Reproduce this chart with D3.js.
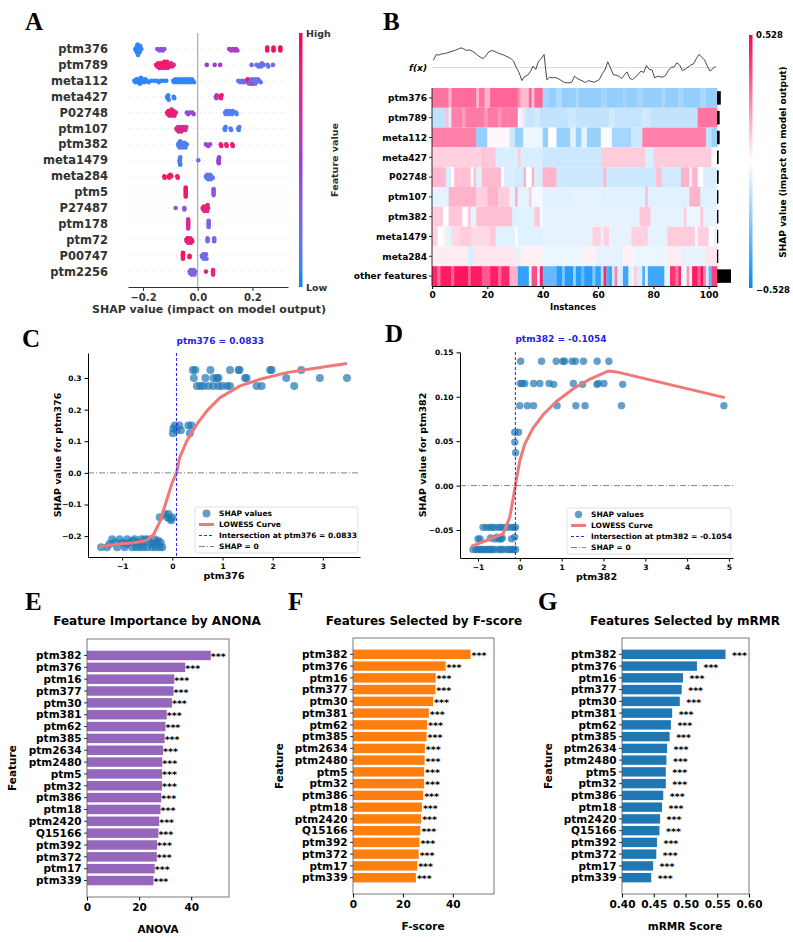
<!DOCTYPE html>
<html>
<head>
<meta charset="utf-8">
<script src="https://cdn.jsdelivr.net/npm/d3@7"></script>
<style>
  body { margin: 0; background: #fff; }
  svg text { font-family: "DejaVu Sans", sans-serif; font-weight: bold; }
  svg text.letter { font-family: "Liberation Serif", "Times New Roman", serif; }
</style>
</head>
<body>
<svg id="fig" width="793" height="942"></svg>
<script>
// ---------------- data ----------------

// A: shap summary (beeswarm). each dot = [shap value, scaled feature value 0..1]
var summaryFeatures = ["ptm376","ptm789","meta112","meta427","P02748","ptm107","ptm382","meta1479","meta284","ptm5","P27487","ptm178","ptm72","P00747","ptm2256"];
var summaryTicks = [-0.2, 0.0, 0.2];
var summaryShap = [
  [[-0.228,.03],[-0.226,.05],[-0.224,.02],[-0.222,.04],[-0.222,.06],[-0.220,.03],[-0.220,.05],[-0.218,.02],[-0.218,.07],[-0.216,.04],[-0.214,.03],[-0.212,.05],[-0.210,.04],[-0.206,.06],
   [-0.148,.4],[-0.140,.42],[-0.135,.38],[-0.128,.45],[-0.122,.4],
   [0.115,.55],[0.122,.58],[0.128,.52],[0.135,.6],[0.140,.55],[0.145,.58],
   [0.254,.95],[0.254,.97],[0.254,.93],[0.277,.95],[0.277,.97],[0.277,.93],[0.302,.96],[0.302,.94],[0.302,.98]],
  [[-0.152,.9],[-0.148,.85],[-0.145,.92],[-0.142,.88],[-0.140,.95],[-0.138,.75],[-0.135,.9],[-0.133,.92],[-0.130,.7],[-0.128,.95],[-0.126,.9],[-0.124,.88],[-0.122,.93],[-0.120,.72],[-0.118,.9],[-0.116,.95],[-0.114,.88],[-0.112,.9],[-0.110,.75],[-0.106,.92],[-0.102,.9],[-0.098,.85],[-0.094,.9],[-0.088,.8],
   [0.033,.5],[0.062,.48],[0.082,.52],
   [0.197,.3],[0.215,.2],[0.222,.15],[0.228,.22],[0.232,.18],[0.235,.25],[0.240,.2],[0.255,.3],[0.258,.2],[0.275,.25]],
  [[-0.232,.03],[-0.228,.05],[-0.224,.02],[-0.220,.04],[-0.216,.03],[-0.214,.06],[-0.212,.02],[-0.210,.04],[-0.208,.05],[-0.206,.03],[-0.204,.02],[-0.200,.05],[-0.196,.04],[-0.192,.03],[-0.186,.05],[-0.180,.04],
   [-0.170,.03],[-0.160,.05],[-0.150,.04],[-0.142,.03],[-0.135,.05],[-0.125,.04],[-0.115,.03],
   [-0.090,.04],[-0.086,.03],[-0.082,.05],[-0.078,.02],[-0.074,.04],[-0.070,.06],[-0.066,.03],[-0.062,.05],[-0.058,.04],[-0.054,.02],[-0.050,.05],[-0.046,.04],[-0.042,.03],[-0.038,.05],[-0.034,.04],[-0.030,.06],[-0.026,.03],[-0.022,.05],[-0.018,.04],[-0.014,.03],
   [0.148,.2],[0.155,.18],[0.162,.25],[0.168,.2],[0.175,.3],[0.180,.22],[0.183,.95],[0.186,.9],[0.188,.2],[0.192,.25],[0.195,.18],[0.198,.3],[0.200,.92],[0.203,.2],[0.206,.25],[0.208,.18],[0.210,.3],[0.213,.2],[0.216,.22],[0.220,.25],[0.225,.2],[0.230,.18]],
  [[-0.112,.05],[-0.110,.04],[-0.108,.06],[-0.106,.05],[-0.088,.05],[-0.086,.07],
   [0.066,.55],[0.068,.6],[0.070,.52],[0.083,.92],[0.085,.9],[0.087,.95]],
  [[-0.112,.9],[-0.110,.85],[-0.107,.92],[-0.104,.75],[-0.102,.9],[-0.100,.95],[-0.098,.88],[-0.096,.9],[-0.094,.78],[-0.092,.92],[-0.090,.9],[-0.088,.85],[-0.085,.9],[-0.080,.8],
   [-0.040,.45],[-0.035,.5],[-0.030,.42],[-0.020,.48],[-0.015,.45],
   [0.100,.1],[0.102,.12],[0.105,.08],[0.110,.1],[0.112,.15],[0.115,.1],[0.120,.12],[0.125,.08],[0.128,.1],[0.140,.12],[0.142,.1]],
  [[-0.078,.7],[-0.075,.85],[-0.072,.7],[-0.070,.8],[-0.068,.65],[-0.065,.85],[-0.062,.7],[-0.060,.8],[-0.058,.72],[-0.055,.88],[-0.052,.7],[-0.048,.85],[-0.045,.75],[-0.042,.8],
   [0.098,.1],[0.100,.12],[0.102,.08],[0.120,.1],[0.122,.12],[0.148,.1],[0.150,.08],[0.152,.12]],
  [[-0.072,.12],[-0.070,.1],[-0.068,.15],[-0.066,.12],[-0.064,.1],[-0.062,.14],[-0.060,.12],[-0.058,.1],[-0.055,.15],[-0.052,.12],[-0.050,.1],[-0.048,.14],[-0.045,.12],[-0.040,.1],
   [0.030,.45],[0.038,.5],[0.045,.42],
   [0.084,.85],[0.086,.9],[0.104,.85],[0.106,.88],[0.126,.85],[0.128,.9]],
  [[-0.066,.1],[-0.065,.08],[-0.064,.12],[-0.065,.1],[-0.066,.12],[-0.064,.08],
   [0.002,.2],
   [0.076,.5],[0.077,.55],[0.078,.48],[0.077,.52],[0.076,.5]],
  [[-0.122,.95],[-0.121,.92],[-0.106,.95],[-0.104,.9],[-0.100,.95],[-0.097,.92],[-0.075,.95],[-0.073,.9],
   [0.030,.15],[0.032,.12],[0.035,.18],[0.038,.15],[0.040,.12],[0.042,.2],[0.045,.15],[0.048,.12],[0.050,.18],[0.055,.15]],
  [[-0.044,.92],[-0.044,.9],[-0.044,.95],[-0.044,.88],[-0.044,.92],[-0.044,.9],[-0.044,.95],
   [0.058,.35],[0.058,.38],[0.058,.32],[0.058,.35],[0.058,.4]],
  [[-0.081,.3],[-0.049,.4],[-0.049,.38],
   [0.018,.85],[0.020,.8],[0.022,.88],[0.025,.82],[0.028,.85],[0.030,.78],[0.032,.85],[0.035,.8],[0.036,.88],[0.038,.82]],
  [[-0.035,.75],[-0.035,.7],[-0.035,.8],[-0.035,.72],[-0.035,.78],[-0.035,.7],[-0.035,.75],
   [0.040,.3],[0.040,.28],[0.040,.35],[0.040,.3],[0.040,.32]],
  [[-0.042,.9],[-0.040,.7],[-0.038,.92],[-0.035,.85],[-0.032,.95],[-0.030,.72],[-0.028,.9],[-0.025,.92],[-0.022,.85],[-0.020,.9],
   [0.036,.25],[0.036,.22],[0.036,.28],[0.060,.25],[0.060,.3],[0.060,.22]],
  [[-0.054,.95],[-0.054,.92],[-0.054,.95],[-0.054,.9],[-0.054,.95],[-0.030,.95],[-0.030,.92],
   [0.015,.25],[0.017,.2],[0.020,.3],[0.022,.22],[0.025,.28],[0.027,.2],[0.030,.3],[0.032,.25]],
  [[-0.030,.3],[-0.028,.25],[-0.025,.35],[-0.022,.3],[-0.020,.28],[-0.018,.32],[-0.015,.25],[-0.012,.3],[-0.010,.35],
   [0.030,.85],
   [0.056,.8],[0.056,.75],[0.056,.85],[0.056,.78]]
];

// B: shap heatmap, 103 instances. runs of [instances, shap / 0.528]
var heatFeatures = ["ptm376","ptm789","meta112","meta427","P02748","ptm107","ptm382","meta1479","meta284","other features"];
var heatTicks = [0, 20, 40, 60, 80, 100];
var heatMax = 0.528;
var hmPtm376 = [[6,.55],[1,.3],[9,.58],[1,.3],[2,.55],[2,.3],[10,.6],[1,.45],[3,.28],[1,.6],[1,.25],[3,.6],[2,-.35],[3,-.42],[2,-.32],[5,-.42],[1,-.32],[8,-.42],[2,-.35],[6,-.42],[1,-.35],[4,-.42],[2,-.35],[7,-.42],[1,-.33],[5,-.42],[2,-.35],[6,-.42],[2,-.34],[4,-.42]];
var hmPtm789 = [[5,-.25],[1,.25],[1,-.15],[4,.5],[1,.4],[7,.52],[1,.4],[4,.52],[1,.42],[6,.52],[1,-.05],[1,.08],[1,-.18],[3,-.22],[2,-.18],[10,-.24],[3,-.2],[12,-.24],[2,-.18],[10,-.23],[3,-.19],[17,-.24],[7,.55]];
var hmMeta112 = [[16,.5],[4,-.42],[8,.03],[2,-.2],[3,-.4],[7,-.08],[2,-.42],[3,0],[5,-.4],[2,-.12],[2,-.4],[2,-.1],[5,-.4],[4,-.02],[7,-.35],[4,-.2],[23,.5],[2,-.25],[2,-.4]];
var hmMeta427 = [[18,.18],[1,.25],[4,.22],[8,-.15],[1,.2],[8,-.15],[21,-.2],[16,.2],[3,-.15],[21,.2],[2,0]];
var hmP02748 = [[5,.28],[2,-.15],[1,0],[6,.25],[1,0],[1,.25],[2,-.12],[7,.27],[1,0],[4,-.15],[3,-.18],[1,.3],[2,0],[1,.3],[3,-.15],[5,.3],[17,-.2],[1,.3],[18,-.2],[2,.25],[7,-.18],[3,.3],[1,-.1],[2,.3],[2,0],[5,-.15]];
var hmPtm107 = [[6,-.1],[10,.3],[4,.18],[4,.3],[4,.2],[2,-.1],[1,.3],[4,-.1],[1,.2],[4,-.05],[11,-.12],[10,-.1],[16,-.12],[1,.25],[15,-.12],[4,.3],[6,-.12]];
var hmPtm382 = [[4,.2],[2,0],[5,.22],[2,0],[1,.22],[2,-.1],[13,.25],[8,-.12],[2,.22],[1,-.05],[35,-.1],[4,.22],[12,-.1],[1,.2],[5,-.08],[1,.22],[5,-.1]];
var hmMeta1479 = [[2,.18],[2,0],[1,.05],[2,-.1],[3,.15],[4,.2],[7,.15],[2,.22],[7,-.12],[1,.02],[9,-.12],[18,-.1],[3,.18],[1,-.1],[2,.18],[8,-.1],[6,.18],[7,-.1],[10,.2],[1,-.05],[4,.18],[2,0],[1,-.1]];
var hmMeta284 = [[13,.08],[2,-.15],[15,.1],[2,-.1],[8,.06],[15,-.08],[4,.06],[10,-.1],[4,.06],[12,-.08],[5,.08],[9,-.1],[4,.1]];
var hmOther = [[2,.85],[1,.55],[4,.9],[1,.6],[5,.92],[1,.6],[4,.9],[3,.65],[3,.88],[1,.6],[3,.85],[3,.3],[4,-.8],[1,-.1],[2,.7],[1,.1],[1,.9],
  [5,-.6],[2,-.85],[1,-.5],[3,-.85],[1,-.4],[2,-.85],[1,-.6],[3,-.85],[1,-.5],[2,-.8],[1,-.3],[1,.85],[1,-.7],[1,-.8],[1,-.2],[1,.5],[2,-.15],[2,-.75],[2,-.1],[1,.2],[2,-.15],[1,-.7],[1,-.1],[6,-.75],[2,-.1],[2,.8],[1,.55],[1,.85],[2,-.05],[1,.4],[1,-.1],[2,.9],[1,.6],[1,.95],[1,.5],[1,-.2],[1,-.6],[2,.75]];
var heatRuns = [hmPtm376, hmPtm789, hmMeta112, hmMeta427, hmP02748, hmPtm107, hmPtm382, hmMeta1479, hmMeta284, hmOther];
var heatImportance = [0.27, 0.19, 0.19, 0.12, 0.12, 0.1, 0.1, 0.09, 0.09, 1.0];
// model output f(x) per instance
var fxValues = [.47,.87,.82,.91,.93,.98,1.04,1.09,1.16,1.24,
  1.31,1.24,1.13,1.18,1.09,.98,.82,.69,.60,.78,
  1.04,1.13,1.09,1.00,.91,.87,.78,.69,.60,.42,
  -.02,-.36,-.87,-.60,-.53,-.29,.09,-.13,.42,.60,
  .87,-.82,-.64,-.69,-.67,-.73,-.84,-.96,-1.02,-1.02,
  -.98,-.58,-.73,-.82,-.91,-1.00,-.87,-.93,-.98,-.91,
  -.80,-.42,-.16,.38,-.02,-.47,-.51,-.58,-.73,-.51,
  -.29,-.73,-.80,-.64,-.47,-.24,-.33,.13,-.13,-.16,
  -.69,-.58,-.62,-.64,-.51,-.18,.02,.04,.31,.16,
  -.20,-.11,.02,.16,.24,.58,.87,.69,.51,.09,
  -.24,-.07,.09];

// C: dependence ptm376  [feature value, shap]
var ptm376Points = [
  [0.41,.325],[0.46,.325],[0.76,.325],[1.15,.325],[1.32,.325],[1.34,.325],[1.95,.325],[1.98,.325],[2.57,.325],
  [0.43,.30],[0.66,.30],[0.82,.30],[0.89,.30],[0.92,.30],[1.45,.30],[1.48,.30],[2.27,.30],[2.94,.30],[3.48,.30],
  [0.49,.275],[0.56,.275],[0.62,.275],[0.72,.275],[0.82,.275],[0.92,.275],[0.99,.275],[1.09,.275],[1.15,.275],[1.68,.275],[1.78,.275],[2.43,.275],
  [0.01,.125],[0.02,.14],[0.05,.15],[0.08,.135],[0.14,.15],[0.17,.135],[0.32,.15],[0.35,.125],[0.38,.15],
  [-0.25,-.14],[-0.15,-.13],[-0.1,-.14],[-0.05,-.145],[-0.02,-.15],[-0.08,-.13],[0.0,-.14],
  [-1.42,-.235],[-1.3,-.235],[-1.25,-.225],[-1.2,-.21],[-1.15,-.22],[-1.1,-.235],[-1.05,-.21],[-1.0,-.22],[-0.95,-.235],[-0.92,-.225],[-0.9,-.21],[-0.85,-.22],[-0.8,-.235],[-0.78,-.215],[-0.75,-.21],[-0.72,-.235],[-0.7,-.22],[-0.65,-.235],[-0.62,-.21],[-0.6,-.22],[-0.58,-.235],[-0.55,-.21],[-0.5,-.235],[-0.48,-.21],[-0.45,-.22],[-0.4,-.235],[-0.38,-.225],[-0.35,-.21],[-0.33,-.235],[-0.3,-.22],[-0.28,-.215],[-0.25,-.235],[-0.23,-.22],[-0.2,-.235]
];
var ptm376Lowess = [[-1.465,-.234],[-1.1,-.226],[-0.77,-.221],[-0.5,-.213],[-0.37,-.194],[-0.24,-.152],[-0.11,-.085],[0.0,-.03],[0.0833,0.0],[0.15,.05],[0.29,.101],[0.49,.154],[0.69,.196],[0.95,.238],[1.35,.275],[1.75,.296],[2.28,.317],[2.94,.333],[3.48,.346]];
var ptm376Cross = 0.0833;

// D: dependence ptm382
var ptm382Points = [
  [0.02,.14],[0.52,.14],[0.87,.14],[1.03,.14],[1.07,.14],[1.25,.14],[1.33,.14],[1.52,.14],[1.85,.14],[2.13,.14],
  [0.01,.115],[0.06,.115],[0.12,.115],[0.33,.115],[0.48,.115],[0.70,.115],[0.81,.114],[1.28,.115],[1.50,.114],[1.84,.114],[1.88,.115],[2.01,.115],[2.46,.114],
  [0.0,.09],[0.18,.09],[0.33,.09],[0.89,.09],[1.34,.09],[1.56,.09],[2.43,.09],[4.88,.09],
  [-0.12,.06],[-0.12,.049],[-0.1,.037],[-0.03,.06],
  [-0.88,-.047],[-0.8,-.047],[-0.72,-.047],[-0.66,-.047],[-0.6,-.047],[-0.5,-.047],[-0.45,-.047],[-0.38,-.047],[-0.3,-.047],[-0.2,-.047],[-0.15,-.047],[-0.1,-.047],
  [-1.0,-.06],[-0.95,-.06],[-0.7,-.059],[-0.6,-.06],[-0.55,-.058],[-0.5,-.06],[-0.45,-.06],[-0.42,-.059],[-0.2,-.06],[-0.12,-.058],
  [-1.12,-.072],[-1.05,-.072],[-1.0,-.072],[-0.95,-.072],[-0.9,-.072],[-0.85,-.072],[-0.8,-.072],[-0.75,-.072],[-0.7,-.072],[-0.65,-.072],[-0.6,-.072],[-0.5,-.072],[-0.45,-.072],[-0.4,-.072],[-0.3,-.072],[-0.25,-.072],[-0.2,-.072],[-0.15,-.072],[-0.1,-.072]
];
var ptm382Lowess = [[-1.16,-.0685],[-0.8,-.0618],[-0.4,-.0543],[-0.24,-.0356],[-0.1054,0.0],[0.0,.028],[0.12,.047],[0.32,.065],[0.56,.080],[0.88,.095],[1.28,.109],[1.68,.120],[2.11,.129],[2.31,.128],[4.9,.099]];
var ptm382Cross = -0.1054;

// E, F, G: ranked features
var rankedFeatures = ["ptm382","ptm376","ptm16","ptm377","ptm30","ptm381","ptm62","ptm385","ptm2634","ptm2480","ptm5","ptm32","ptm386","ptm18","ptm2420","Q15166","ptm392","ptm372","ptm17","ptm339"];
var anovaScores = [47.5,37.7,33.5,33.2,32.6,30.6,30.1,29.8,29.2,28.9,28.8,28.8,28.5,28.2,27.7,27.4,26.9,26.8,26.0,25.5];
var fScores = [47.1,37.1,33.1,33.0,32.1,30.4,29.7,29.5,28.8,28.7,28.5,28.5,28.1,27.6,27.3,27.0,26.6,26.3,25.7,25.2];
var mrmrScores = [0.563,0.518,0.496,0.494,0.491,0.479,0.477,0.475,0.471,0.470,0.469,0.469,0.465,0.463,0.460,0.459,0.455,0.454,0.449,0.446];
var signif = "***";

// ---------------- drawing ----------------
var svg = d3.select("#fig");
svg.append("rect").attr("width", 793).attr("height", 942).attr("fill", "#fff");

function styleAxis(ax, size, color) {
  ax.selectAll("text").attr("font-size", size).attr("fill", color || "#000");
  ax.selectAll("line").attr("stroke", color || "#000");
  ax.select(".domain").attr("stroke", color || "#000");
}

// simple beeswarm: stack dots that would overlap
function swarm(points, xs) {
  var placed = [];
  var pts = points.map(function (p) { return { x: xs(p[0]), v: p[1] }; })
    .sort(function (a, b) { return a.x - b.x; });
  pts.forEach(function (p) {
    var near = placed.filter(function (q) { return Math.abs(q.x - p.x) < 2.4; });
    for (var j = 0; j < 20; j++) {
      var s = j === 0 ? 0 : (j % 2 ? (j + 1) / 2 : -j / 2);
      if (!near.some(function (q) { return q.slot === s; })) { p.slot = s; break; }
    }
    placed.push(p);
  });
  return pts;
}

// ===== A =====
var gA = svg.append("g");
var xA = d3.scaleLinear().domain([-0.255, 0.33]).range([128, 288]);
var yA = d3.scalePoint().domain(summaryFeatures).range([49, 271.6]);
var colA = d3.scaleLinear().domain([0, 0.5, 1]).range(["#008bfb", "#9b3fd4", "#ff0052"]).interpolate(d3.interpolateLab);

gA.selectAll(".guide").data(summaryFeatures).enter().append("line")
  .attr("x1", 128).attr("x2", 288)
  .attr("y1", function (d) { return yA(d); }).attr("y2", function (d) { return yA(d); })
  .attr("stroke", "#cccccc").attr("stroke-width", 0.6).attr("stroke-dasharray", "1,3");
gA.append("line").attr("x1", xA(0)).attr("x2", xA(0)).attr("y1", 33).attr("y2", 287)
  .attr("stroke", "#999").attr("stroke-width", 1);

summaryShap.forEach(function (pts, i) {
  var f = summaryFeatures[i];
  gA.append("g").selectAll("circle").data(swarm(pts, xA)).enter().append("circle")
    .attr("cx", function (d) { return d.x; })
    .attr("cy", function (d) { return yA(f) + d.slot * 1.5; })
    .attr("r", 2.3)
    .attr("fill", function (d) { return colA(d.v); });
});

gA.selectAll(".flab").data(summaryFeatures).enter().append("text")
  .attr("x", 108).attr("y", function (d) { return yA(d) + 4; })
  .attr("text-anchor", "end").attr("font-size", 11.5).attr("fill", "#333").text(function (d) { return d; });

var axA = gA.append("g").attr("transform", "translate(0,287)")
  .call(d3.axisBottom(xA).tickValues(summaryTicks).tickFormat(d3.format(".1f")).tickSize(4).tickSizeOuter(0));
styleAxis(axA, 10, "#333");
gA.append("text").attr("x", 209).attr("y", 313).attr("text-anchor", "middle").attr("font-size", 11).attr("fill", "#333")
  .text("SHAP value (impact on model output)");

var defs = svg.append("defs");
var gradA = defs.append("linearGradient").attr("id", "gradA").attr("x1", 0).attr("x2", 0).attr("y1", 1).attr("y2", 0);
d3.range(0, 1.001, 0.1).forEach(function (t) {
  gradA.append("stop").attr("offset", t).attr("stop-color", colA(t));
});
gA.append("rect").attr("x", 299).attr("y", 33).attr("width", 3.5).attr("height", 254).attr("fill", "url(#gradA)");
gA.append("text").attr("x", 306).attr("y", 37).attr("font-size", 9.5).attr("fill", "#333").text("High");
gA.append("text").attr("x", 306).attr("y", 291).attr("font-size", 9.5).attr("fill", "#333").text("Low");
gA.append("text").attr("transform", "translate(338,160) rotate(-90)").attr("text-anchor", "middle")
  .attr("font-size", 9.5).attr("fill", "#333").text("Feature value");

// ===== B =====
var gB = svg.append("g");
var xB = d3.scaleLinear().domain([0, fxValues.length]).range([432, 717]);
var yB = d3.scaleBand().domain(heatFeatures).range([88, 286]);
var colB = d3.scaleLinear().domain([-1, 0, 1]).range(["#008bfb", "#ffffff", "#ff0052"]);

heatRuns.forEach(function (runs, r) {
  var start = 0;
  var cells = runs.map(function (run) {
    var c = { s: start, n: run[0], v: run[1] };
    start += run[0];
    return c;
  });
  gB.append("g").selectAll("rect").data(cells).enter().append("rect")
    .attr("x", function (d) { return xB(d.s); })
    .attr("y", yB(heatFeatures[r]))
    .attr("width", function (d) { return xB(d.s + d.n) - xB(d.s) + 0.3; })
    .attr("height", yB.bandwidth())
    .attr("fill", function (d) { return colB(d.v); });
});

var xImp = d3.scaleLinear().domain([0, 1]).range([0, 14]);
gB.selectAll(".imp").data(heatImportance).enter().append("rect")
  .attr("x", 717)
  .attr("y", function (d, i) { return yB(heatFeatures[i]) + yB.bandwidth() * 0.16; })
  .attr("width", function (d) { return xImp(d); })
  .attr("height", yB.bandwidth() * 0.68)
  .attr("fill", "#000");

var yF = d3.scaleLinear().domain([-1.1, 1.4]).range([84, 46.5]);
gB.append("line").attr("x1", 432).attr("x2", 717).attr("y1", yF(0)).attr("y2", yF(0))
  .attr("stroke", "#ddd").attr("stroke-width", 1);
gB.append("path").datum(fxValues)
  .attr("d", d3.line().x(function (d, i) { return xB(i + 0.5); }).y(function (d) { return yF(d); }))
  .attr("fill", "none").attr("stroke", "#333").attr("stroke-width", 0.9);
gB.append("text").attr("x", 427).attr("y", yF(0) + 3.5).attr("text-anchor", "end")
  .attr("font-size", 9).attr("font-style", "italic").text("f(x)");

gB.selectAll(".hlab").data(heatFeatures).enter().append("text")
  .attr("x", 427).attr("y", function (d) { return yB(d) + yB.bandwidth() / 2 + 3.2; })
  .attr("text-anchor", "end").attr("font-size", 9).text(function (d) { return d; });
gB.selectAll(".htick").data(heatFeatures).enter().append("line")
  .attr("x1", 429).attr("x2", 432)
  .attr("y1", function (d) { return yB(d) + yB.bandwidth() / 2; })
  .attr("y2", function (d) { return yB(d) + yB.bandwidth() / 2; })
  .attr("stroke", "#000").attr("stroke-width", 0.8);
gB.append("line").attr("x1", 432).attr("x2", 432).attr("y1", 88).attr("y2", 286).attr("stroke", "#000").attr("stroke-width", 0.8);
var axB = gB.append("g").attr("transform", "translate(0,286)")
  .call(d3.axisBottom(xB).tickValues(heatTicks).tickFormat(d3.format("d")).tickSize(3).tickSizeOuter(0));
styleAxis(axB, 9);
gB.append("text").attr("x", 573).attr("y", 310).attr("text-anchor", "middle").attr("font-size", 8.5).text("Instances");

var gradB = defs.append("linearGradient").attr("id", "gradB").attr("x1", 0).attr("x2", 0).attr("y1", 1).attr("y2", 0);
d3.range(-1, 1.001, 0.1).forEach(function (t) {
  gradB.append("stop").attr("offset", (t + 1) / 2).attr("stop-color", colB(t));
});
gB.append("rect").attr("x", 749).attr("y", 35).attr("width", 3.5).attr("height", 253).attr("fill", "url(#gradB)");
gB.append("text").attr("x", 756).attr("y", 38).attr("font-size", 8.5).text(d3.format(".3f")(heatMax));
gB.append("text").attr("x", 756).attr("y", 293).attr("font-size", 8.5).text(d3.format(".3f")(-heatMax));
gB.append("text").attr("transform", "translate(786,162) rotate(-90)").attr("text-anchor", "middle")
  .attr("font-size", 9).text("SHAP value (impact on model output)");

// ===== C / D =====
function drawDependence(o) {
  var g = svg.append("g");
  var x = d3.scaleLinear().domain(o.xDomain).range([o.left, o.right]);
  var y = d3.scaleLinear().domain(o.yDomain).range([o.bottom, o.top]);

  g.selectAll("circle").data(o.points).enter().append("circle")
    .attr("cx", function (d) { return x(d[0]); }).attr("cy", function (d) { return y(d[1]); })
    .attr("r", o.r).attr("fill", "#1f77b4").attr("fill-opacity", 0.7);
  g.append("path").datum(o.lowess)
    .attr("d", d3.line().x(function (d) { return x(d[0]); }).y(function (d) { return y(d[1]); }))
    .attr("fill", "none").attr("stroke", "#f07878").attr("stroke-width", 3).attr("stroke-linejoin", "round");
  g.append("line").attr("x1", x(o.cross)).attr("x2", x(o.cross)).attr("y1", o.top).attr("y2", o.bottom)
    .attr("stroke", "#2a2af0").attr("stroke-width", 1).attr("stroke-dasharray", "3,2");
  g.append("line").attr("x1", o.left).attr("x2", o.right).attr("y1", y(0)).attr("y2", y(0))
    .attr("stroke", "#666").attr("stroke-width", 0.8).attr("stroke-dasharray", "6,2,1,2");

  var axX = g.append("g").attr("transform", "translate(0," + o.bottom + ")")
    .call(d3.axisBottom(x).tickValues(o.xTicks).tickFormat(d3.format("d")).tickSize(3.5).tickSizeOuter(0));
  styleAxis(axX, 7.5);
  var axY = g.append("g").attr("transform", "translate(" + o.left + ",0)")
    .call(d3.axisLeft(y).tickValues(o.yTicks).tickFormat(d3.format(o.yFormat)).tickSize(3.5).tickSizeOuter(0));
  styleAxis(axY, 7.5);

  g.append("text").attr("x", x(o.cross)).attr("y", o.titleY).attr("font-size", 9).attr("fill", "#1f1fe6")
    .text(o.feature + " = " + o.cross);
  g.append("text").attr("x", (o.left + o.right) / 2).attr("y", o.bottom + 22).attr("text-anchor", "middle")
    .attr("font-size", 9.5).text(o.feature);
  g.append("text").attr("transform", "translate(" + o.ylabX + "," + ((o.top + o.bottom) / 2) + ") rotate(-90)")
    .attr("text-anchor", "middle").attr("font-size", 9.5).text("SHAP value for " + o.feature);

  var lg = g.append("g").attr("transform", "translate(" + o.legX + "," + o.legY + ")");
  lg.append("rect").attr("width", o.right - o.legX - 2).attr("height", 46).attr("rx", 2)
    .attr("fill", "#fff").attr("fill-opacity", 0.8).attr("stroke", "#d9d9d9").attr("stroke-width", 0.8);
  var labels = ["SHAP values", "LOWESS Curve", "Intersection at " + o.feature + " = " + o.cross, "SHAP = 0"];
  labels.forEach(function (t, k) {
    var cy = 6.5 + k * 11;
    if (k === 0) lg.append("circle").attr("cx", 11.5).attr("cy", cy).attr("r", o.r).attr("fill", "#1f77b4").attr("fill-opacity", 0.7);
    if (k === 1) lg.append("line").attr("x1", 4).attr("x2", 19).attr("y1", cy).attr("y2", cy).attr("stroke", "#f07878").attr("stroke-width", 3);
    if (k === 2) lg.append("line").attr("x1", 4).attr("x2", 19).attr("y1", cy).attr("y2", cy).attr("stroke", "#2a2af0").attr("stroke-width", 1).attr("stroke-dasharray", "3,2");
    if (k === 3) lg.append("line").attr("x1", 4).attr("x2", 19).attr("y1", cy).attr("y2", cy).attr("stroke", "#666").attr("stroke-width", 0.8).attr("stroke-dasharray", "6,2,1,2");
    lg.append("text").attr("x", 24).attr("y", cy + 2.7).attr("font-size", 7.5).text(t);
  });
}

drawDependence({
  feature: "ptm376", points: ptm376Points, lowess: ptm376Lowess, cross: ptm376Cross,
  xDomain: [-1.68, 3.74], yDomain: [-0.266, 0.379], left: 88, right: 360, top: 353, bottom: 557,
  xTicks: [-1, 0, 1, 2, 3], yTicks: [-0.2, -0.1, 0.0, 0.1, 0.2, 0.3], yFormat: ".1f",
  r: 4, titleY: 344, ylabX: 61, legX: 195, legY: 507
});
drawDependence({
  feature: "ptm382", points: ptm382Points, lowess: ptm382Lowess, cross: ptm382Cross,
  xDomain: [-1.43, 5.097], yDomain: [-0.0815, 0.1504], left: 460, right: 733, top: 352, bottom: 558,
  xTicks: [-1, 0, 1, 2, 3, 4, 5], yTicks: [-0.05, 0.0, 0.05, 0.10, 0.15], yFormat: ".2f",
  r: 3.7, titleY: 341.5, ylabX: 426, legX: 567, legY: 508
});

// ===== E / F / G =====
function drawBars(o) {
  var g = svg.append("g");
  var x = d3.scaleLinear().domain(o.xDomain).range([o.left, o.right]);
  var n = rankedFeatures.length;
  var y = d3.scaleLinear().domain([-1.39, n - 1 + 1.39]).range([o.top, o.bottom]);
  var step = y(1) - y(0);

  g.selectAll("rect.bar").data(o.values).enter().append("rect")
    .attr("x", o.left).attr("y", function (d, i) { return y(i) - 0.4 * step; })
    .attr("width", function (d) { return x(d) - o.left; }).attr("height", 0.8 * step)
    .attr("fill", o.color);
  g.selectAll("text.star").data(o.values).enter().append("text")
    .attr("x", function (d) { return x(d) + o.starGap; }).attr("y", function (d, i) { return y(i) + 4.5; })
    .attr("font-size", 9.5).text(signif);

  g.append("rect").attr("x", o.left).attr("y", o.top).attr("width", o.right - o.left).attr("height", o.bottom - o.top)
    .attr("fill", "none").attr("stroke", "#555").attr("stroke-width", 0.8);
  g.selectAll("text.ylab").data(rankedFeatures).enter().append("text")
    .attr("x", o.left - 5.5).attr("y", function (d, i) { return y(i) + 3.8; })
    .attr("text-anchor", "end").attr("font-size", 10.5).text(function (d) { return d; });
  g.selectAll("line.yt").data(rankedFeatures).enter().append("line")
    .attr("x1", o.left - 3).attr("x2", o.left)
    .attr("y1", function (d, i) { return y(i); }).attr("y2", function (d, i) { return y(i); })
    .attr("stroke", "#000").attr("stroke-width", 0.8);

  var ax = g.append("g").attr("transform", "translate(0," + o.bottom + ")")
    .call(d3.axisBottom(x).tickValues(o.xTicks).tickFormat(d3.format(o.xFormat)).tickSize(3.5).tickSizeOuter(0));
  styleAxis(ax, 10.5);
  ax.select(".domain").remove();

  g.append("text").attr("x", o.titleX).attr("y", 625).attr("text-anchor", "middle").attr("font-size", 12).text(o.title);
  g.append("text").attr("x", o.xlabX).attr("y", o.bottom + 36).attr("text-anchor", "middle").attr("font-size", 10.5).text(o.xlab);
  g.append("text").attr("transform", "translate(" + o.ylabX + "," + ((o.top + o.bottom) / 2) + ") rotate(-90)")
    .attr("text-anchor", "middle").attr("font-size", 10.5).text("Feature");
}

drawBars({ values: anovaScores, color: "#9467bd", xDomain: [0, 54.5], xTicks: [0, 20, 40], xFormat: "d",
  left: 87, right: 229, top: 639, bottom: 897, starGap: 0,
  title: "Feature Importance by ANONA", titleX: 157, xlab: "ANOVA", xlabX: 158, ylabX: 16 });
drawBars({ values: fScores, color: "#ff7f0e", xDomain: [0, 56.5], xTicks: [0, 20, 40], xFormat: "d",
  left: 353, right: 494, top: 638, bottom: 894, starGap: 1,
  title: "Features Selected by F-score", titleX: 424, xlab: "F-score", xlabX: 423, ylabX: 283 });
drawBars({ values: mrmrScores, color: "#1f77b4", xDomain: [0.40, 0.60], xTicks: [0.40, 0.45, 0.50, 0.55, 0.60], xFormat: ".2f",
  left: 622, right: 749, top: 638, bottom: 894, starGap: 6.5,
  title: "Features Selected by mRMR", titleX: 685, xlab: "mRMR Score", xlabX: 685, ylabX: 552 });

// ===== panel letters =====
var letters = [["A", 25, 30], ["B", 383, 30], ["C", 22, 347], ["D", 385, 342], ["E", 25, 610], ["F", 288, 610], ["G", 538, 610]];
svg.selectAll("text.letter").data(letters).enter().append("text").attr("class", "letter")
  .attr("x", function (d) { return d[1]; }).attr("y", function (d) { return d[2]; })
  .attr("font-size", 25).text(function (d) { return d[0]; });
</script>
</body>
</html>
